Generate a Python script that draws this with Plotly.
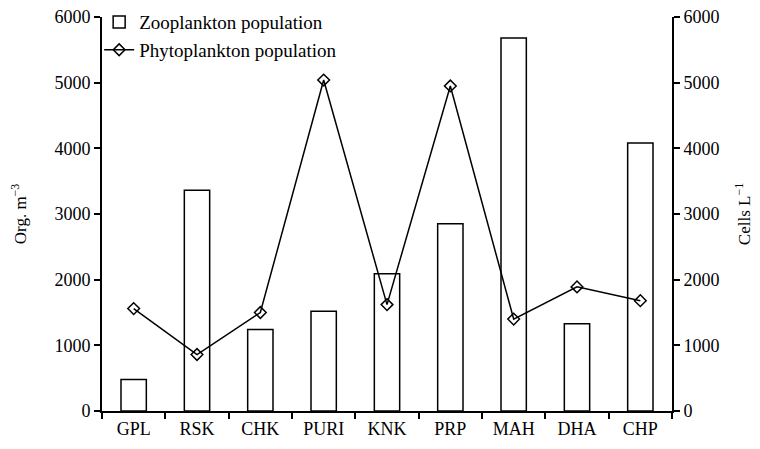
import plotly.graph_objects as go

stations = ["GPL", "RSK", "CHK", "PURI", "KNK", "PRP", "MAH", "DHA", "CHP"]
zooplankton = [480, 3360, 1240, 1520, 2090, 2850, 5680, 1330, 4080]
phytoplankton = [1560, 860, 1500, 5040, 1620, 4950, 1400, 1890, 1680]

fam = "Liberation Serif, Times New Roman, serif"
font = dict(family=fam, size=18, color="black")
lfont = dict(family=fam, size=19, color="black")
tfont = dict(family=fam, size=17, color="black")

fig = go.Figure()
fig.add_trace(go.Bar(
    x=stations, y=zooplankton, name="Zooplankton population",
    marker=dict(color="white", line=dict(color="black", width=1.5)),
    width=0.4,
))
fig.add_trace(go.Scatter(
    x=stations, y=phytoplankton, name="Phytoplankton population",
    mode="lines+markers", yaxis="y2",
    line=dict(color="black", width=1.5),
    marker=dict(symbol="diamond-open", size=9, color="black", line=dict(width=1.5)),
))

fig.update_layout(
    width=760, height=449,
    margin=dict(l=94, r=96, t=9, b=46, autoexpand=False),
    paper_bgcolor="white", plot_bgcolor="white",
    font=font,
    showlegend=True,
    legend=dict(x=-0.005, y=1.035, xanchor="left", yanchor="top",
                bgcolor="rgba(0,0,0,0)", font=lfont, tracegroupgap=0,
                itemwidth=30),
    xaxis=dict(type="category", range=[-0.5, 8.5], showline=True, linecolor="black",
               linewidth=2, ticks="outside", tickson="boundaries", ticklen=6,
               tickwidth=2, tickcolor="black", showgrid=False, zeroline=False,
               automargin=False, ticklabeloverflow="allow"),
    yaxis=dict(range=[0, 6000], dtick=1000, showline=True, linecolor="black",
               linewidth=2, ticks="outside", ticklen=6, tickwidth=2,
               tickcolor="black", showgrid=False, zeroline=False, automargin=False,
               ticklabeloverflow="allow",
               title=dict(text="Org. m<sup>−3</sup>", standoff=24, font=tfont)),
    yaxis2=dict(range=[0, 6000], dtick=1000, overlaying="y", side="right",
                showline=True, linecolor="black", linewidth=2, ticks="outside",
                ticklen=6, tickwidth=2, tickcolor="black", showgrid=False,
                zeroline=False, automargin=False, ticklabeloverflow="allow",
                title=dict(text="Cells L<sup>−1</sup>", standoff=20, font=tfont)),
)

fig.write_html("out.html")
